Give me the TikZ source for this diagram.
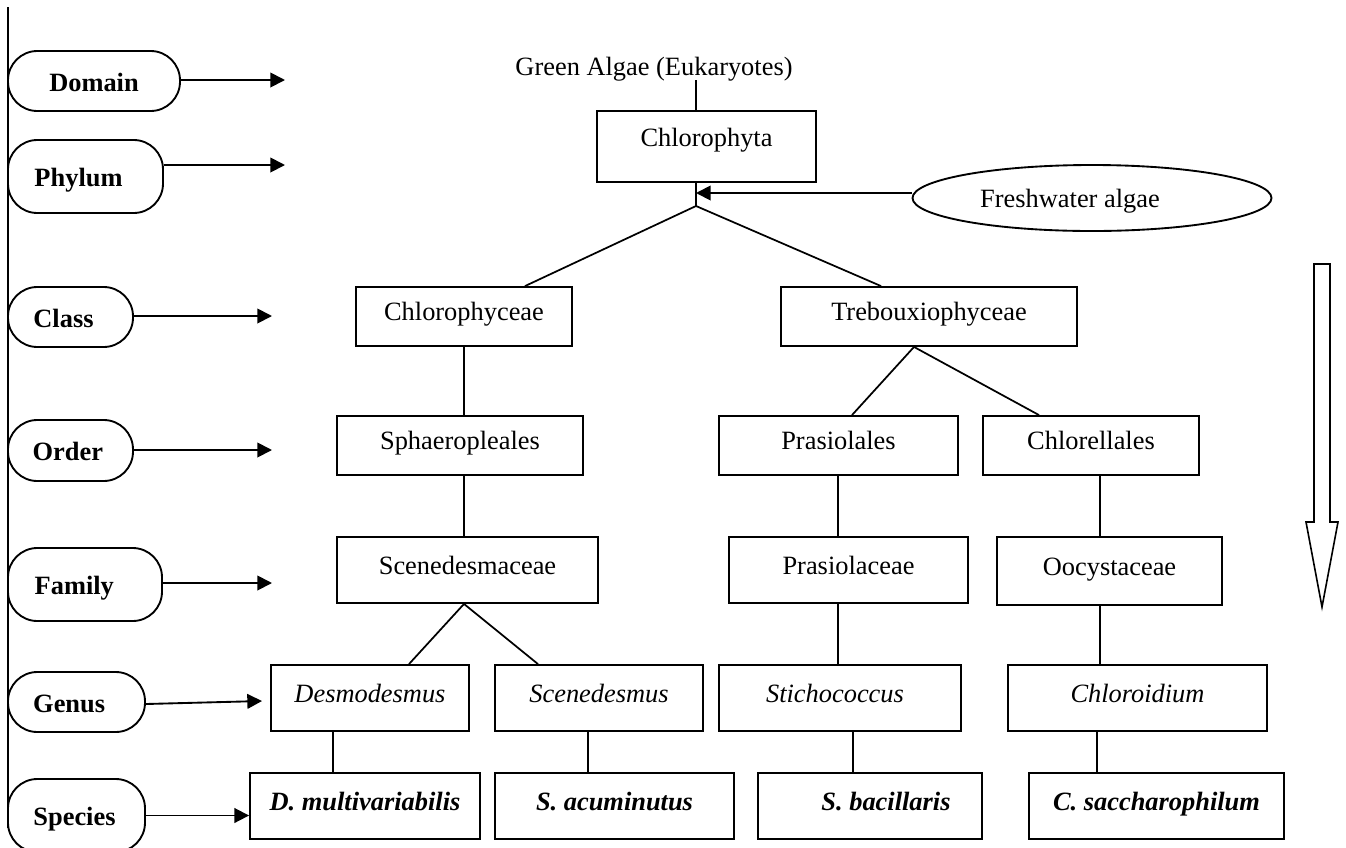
\documentclass[tikz,border=0pt]{standalone}
\usepackage{fontspec}
\setmainfont{Liberation Serif}
\usetikzlibrary{arrows.meta,shapes.geometric}
\newcommand{\tbx}[7][]{\node[tbox,minimum width={(#5-#3)*0.75pt},minimum height={(#6-#4)*0.75pt},#1] (#2) at ({(#3+#5)/2},{(#4+#6)/2}) {#7};}
\newcommand{\rbx}[7][]{\node[rank,minimum width={(#5-#3)*0.75pt},minimum height={(#6-#4)*0.75pt},#1] (#2) at ({(#3+#5)/2},{(#4+#6)/2}) {#7};}
\begin{document}
\begin{tikzpicture}[x=0.75pt,y=-0.75pt,
  every node/.style={font=\fontsize{19.8}{23}\selectfont},
  ln/.style={line width=1.3pt},
  arr/.style={line width=1.4pt,-{Triangle[length=11pt,width=11pt]}},
  tbox/.style={draw,line width=1.4pt,rectangle,inner sep=0pt,text height=13pt,text depth=7pt},
  rank/.style={draw,line width=1.4pt,rectangle,rounded corners=22pt,inner sep=0pt,font=\fontsize{19.8}{23}\selectfont\bfseries,text height=15pt,text depth=0pt},
]
\useasboundingbox (0,0) rectangle (1346,847);

% left rail
\draw[ln] (8,7) -- (8,828);

% rank boxes
\rbx{domain}{8}{51}{180}{111}{Domain}
\rbx{phylum}{8}{140}{163}{213}{Phylum\kern10.5pt}
\rbx{class}{8}{287}{133}{347}{Class\kern10.5pt}
\rbx{order}{8}{420}{133}{481}{Order\kern4pt}
\rbx{family}{8}{548}{162}{621}{Family\kern16pt}
\rbx{genus}{8}{672}{145}{732}{Genus\kern11pt}
\rbx{species}{8}{779}{145}{852}{Species\kern3pt}

% taxonomy tree
\node[anchor=base] (green) at (654,75) {Green Algae (Eukaryotes)};
\tbx[text height=10pt,text depth=10pt]{chlorophyta}{597}{111}{816}{182}{Chlorophyta}
\node[draw,ellipse,line width=1.4pt,inner sep=0pt,minimum width={359*0.75pt},minimum height={66*0.75pt},text height=14pt,text depth=0.5pt] (fresh) at (1092,198) {\kern-33pt Freshwater algae};

\tbx{chlorophyceae}{356}{287}{572}{346}{Chlorophyceae}
\tbx{treb}{781}{287}{1077}{346}{Trebouxiophyceae}

\tbx{sphaer}{337}{416}{583}{475}{Sphaeropleales}
\tbx{prasiolales}{719}{416}{958}{475}{Prasiolales}
\tbx{chlorellales}{983}{416}{1199}{475}{Chlorellales}

\tbx{scened}{337}{537}{598}{603}{Scenedesmaceae}
\tbx{prasiolaceae}{729}{537}{968}{603}{Prasiolaceae}
\tbx{oocyst}{997}{537}{1222}{605}{Oocystaceae}

\tbx{desmo}{271}{665}{469}{731}{\textit{Desmodesmus}}
\tbx{scenedesmus}{495}{665}{703}{731}{\textit{Scenedesmus}}
\tbx{stich}{719}{665}{961}{731}{\textit{Stichococcus}\kern7.5pt}
\tbx{chloroidium}{1008}{665}{1267}{731}{\textit{Chloroidium}}

\tbx{dmult}{250}{773}{480}{839}{\textbf{\textit{D. multivariabilis}}}
\tbx{sacum}{495}{773}{734}{839}{\textbf{\textit{S. acuminutus}}}
\tbx{sbac}{758}{773}{982}{839}{\kern24pt\textbf{\textit{S. bacillaris}}}
\tbx{csacch}{1029}{773}{1284}{839}{\textbf{\textit{C. saccharophilum}}}

% rank arrows
\coordinate (tD) at (285,80);
\coordinate (tP) at (285,165);
\coordinate (tC) at (272,316);
\coordinate (tO) at (272,450);
\coordinate (tF) at (272,583);
\coordinate (tG) at (262,701);
\draw[arr] (domain.east |- tD) -- (tD);
\draw[arr] (phylum.east |- tP) -- (tP);
\draw[arr] (class.east |- tC) -- (tC);
\draw[arr] (order.east |- tO) -- (tO);
\draw[arr] (family.east |- tF) -- (tF);
\draw[arr] (genus.east |- 0,704) -- (tG);
\draw[arr] (species.east) -- (dmult.west |- species.east);

% tree connectors
\coordinate (gtop) at (696,80);
\coordinate (J) at (696,206);
\draw[ln] (gtop) -- (gtop |- chlorophyta.north);
\draw[ln] (J |- chlorophyta.south) -- (J);
\draw[arr] (fresh.west |- 0,193) -- (J |- 0,193);
\draw[ln] (J) -- (chlorophyceae.north -| 525,0);
\draw[ln] (J) -- (treb.north -| 881,0);
\draw[ln] (chlorophyceae.south -| 464,0) -- (sphaer.north -| 464,0);
\draw[ln] (sphaer.south -| 464,0) -- (scened.north -| 464,0);
\draw[ln] (scened.south -| 464,0) -- (desmo.north -| 409,0);
\draw[ln] (scened.south -| 464,0) -- (scenedesmus.north -| 538,0);
\draw[ln] (treb.south -| 914,0) -- (prasiolales.north -| 852,0);
\draw[ln] (treb.south -| 914,0) -- (chlorellales.north -| 1039,0);
\draw[ln] (prasiolales.south -| 838,0) -- (prasiolaceae.north -| 838,0);
\draw[ln] (prasiolaceae.south -| 838,0) -- (stich.north -| 838,0);
\draw[ln] (chlorellales.south -| 1100,0) -- (oocyst.north -| 1100,0);
\draw[ln] (oocyst.south -| 1100,0) -- (chloroidium.north -| 1100,0);
\draw[ln] (desmo.south -| 333,0) -- (dmult.north -| 333,0);
\draw[ln] (scenedesmus.south -| 588,0) -- (sacum.north -| 588,0);
\draw[ln] (stich.south -| 853,0) -- (sbac.north -| 853,0);
\draw[ln] (chloroidium.south -| 1097,0) -- (csacch.north -| 1097,0);

% big hollow arrow
\draw[line width=1.2pt] (1314,264) -- (1330,264) -- (1330,522) -- (1338,522) -- (1322,607) -- (1306,522) -- (1314,522) -- cycle;
\end{tikzpicture}
\end{document}
